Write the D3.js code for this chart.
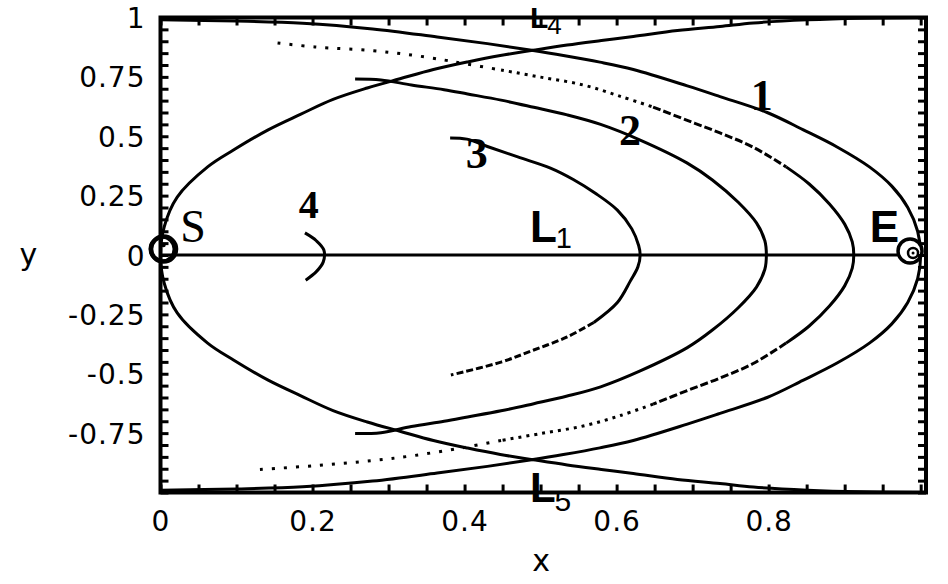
<!DOCTYPE html>
<html>
<head>
<meta charset="utf-8">
<script src="https://cdn.jsdelivr.net/npm/d3@7"></script>
<style>
  body { margin: 0; background: #fff; }
  svg { display: block; }
</style>
</head>
<body>
<svg id="chart"></svg>
<script>
var w = 948;
var h = 584;

// tick labels
let xLabels = ["0", "0.2", "0.4", "0.6", "0.8"];
let yLabels = ["1", "0.75", "0.5", "0.25", "0", "-0.25", "-0.5", "-0.75"];

// outer circle through E (right half of the "eye"), top-left -> E -> bottom-left
let arcS = [[0, 0.99], [0.1, 0.985], [0.187, 0.976], [0.279, 0.952], [0.364, 0.918], [0.43, 0.89],
    [0.486, 0.863], [0.53, 0.84], [0.578, 0.812], [0.622, 0.781], [0.693, 0.712], [0.736, 0.667],
    [0.798, 0.6], [0.845, 0.528], [0.89, 0.455], [0.933, 0.37], [0.962, 0.29], [0.983, 0.2],
    [0.996, 0.1], [1.0, 0],
    [0.996, -0.1], [0.983, -0.2], [0.962, -0.29], [0.933, -0.37], [0.89, -0.455], [0.845, -0.528],
    [0.798, -0.6], [0.736, -0.667], [0.693, -0.712], [0.622, -0.781], [0.578, -0.812], [0.53, -0.84],
    [0.486, -0.863], [0.43, -0.89], [0.364, -0.918], [0.279, -0.952], [0.187, -0.976], [0.1, -0.985],
    [0, -0.99]];

// outer circle through S (left half of the "eye"), top-right -> S -> bottom-right
let arcE = [[1.007, 1.0], [0.92, 0.997], [0.851, 0.99], [0.78, 0.977], [0.736, 0.962], [0.68, 0.945],
    [0.622, 0.92], [0.58, 0.903], [0.535, 0.884], [0.49, 0.862], [0.447, 0.84], [0.404, 0.813],
    [0.359, 0.781], [0.315, 0.742], [0.272, 0.703], [0.227, 0.655], [0.184, 0.592], [0.141, 0.526],
    [0.096, 0.442], [0.062, 0.371], [0.022, 0.244], [0.005, 0.12], [0, 0],
    [0.005, -0.12], [0.022, -0.244], [0.062, -0.371], [0.096, -0.442], [0.141, -0.526], [0.184, -0.592],
    [0.227, -0.655], [0.272, -0.703], [0.315, -0.742], [0.359, -0.781], [0.404, -0.813], [0.447, -0.84],
    [0.49, -0.862], [0.535, -0.884], [0.58, -0.903], [0.622, -0.92], [0.68, -0.945], [0.736, -0.962],
    [0.78, -0.977], [0.851, -0.99], [0.92, -0.997], [1.007, -1.0]];

// curve 1, split by how densely it was plotted
let c1Dots = [[0.154, 0.893], [0.203, 0.876], [0.277, 0.861], [0.33, 0.842], [0.373, 0.821], [0.40, 0.806], [0.448, 0.779]];
let c1Fine = [[0.448, 0.779], [0.5, 0.749], [0.556, 0.716], [0.605, 0.668], [0.648, 0.623]];
let c1Dash = [[0.648, 0.623], [0.692, 0.568], [0.736, 0.514], [0.779, 0.455], [0.823, 0.371]];
let c1Solid = [[0.823, 0.371], [0.853, 0.3], [0.88, 0.215], [0.9, 0.13], [0.91, 0.055], [0.912, 0],
    [0.91, -0.055], [0.9, -0.13], [0.88, -0.215], [0.853, -0.3], [0.823, -0.371]];
let c1DashLow = [[0.823, -0.371], [0.779, -0.458], [0.736, -0.518], [0.692, -0.572], [0.648, -0.628]];
let c1FineLow = [[0.648, -0.628], [0.605, -0.676], [0.556, -0.72], [0.5, -0.752], [0.448, -0.781]];
let c1DotsLow = [[0.448, -0.781], [0.40, -0.81], [0.33, -0.846], [0.277, -0.866], [0.203, -0.887], [0.121, -0.905]];

// curve 2
let c2 = [[0.256, 0.741], [0.29, 0.737], [0.33, 0.716], [0.373, 0.696], [0.404, 0.678], [0.448, 0.652],
    [0.491, 0.622], [0.535, 0.59], [0.579, 0.55], [0.631, 0.484], [0.693, 0.387], [0.726, 0.316],
    [0.76, 0.222], [0.784, 0.135], [0.795, 0.06], [0.797, 0],
    [0.795, -0.06], [0.784, -0.135], [0.76, -0.222], [0.726, -0.316], [0.693, -0.39], [0.631, -0.488],
    [0.579, -0.555], [0.535, -0.594], [0.491, -0.626], [0.448, -0.656], [0.404, -0.682], [0.373, -0.7],
    [0.33, -0.722], [0.29, -0.748], [0.256, -0.752]];

// curve 3
let c3 = [[0.381, 0.493], [0.403, 0.488], [0.43, 0.457], [0.47, 0.413], [0.513, 0.366], [0.543, 0.318],
    [0.572, 0.26], [0.601, 0.189], [0.62, 0.11], [0.629, 0.04], [0.631, 0],
    [0.628, -0.05], [0.618, -0.11], [0.601, -0.2], [0.57, -0.284]];
let c3Low = [[0.57, -0.284], [0.535, -0.345], [0.491, -0.4], [0.448, -0.451], [0.382, -0.505]];

// curve 4
let c4 = [[0.19, 0.093], [0.205, 0.06], [0.215, 0.02], [0.214, -0.03], [0.205, -0.07], [0.191, -0.106]];

// L1 line from S to E
let l1 = [[0, 0], [0.975, 0]];

// bodies
let bodies = [{ name: "S", x: 0.004, y: 0.025 }, { name: "E", x: 0.986, y: 0.017 }];

// annotations, data coordinates of each text anchor
let notes = [
    { text: "S", x: 0.026, y: 0.055, kind: "serif" },
    { text: "4", x: 0.182, y: 0.156, kind: "num" },
    { text: "1", x: 0.791, y: 0.611, kind: "num" },
    { text: "2", x: 0.6175, y: 0.463, kind: "num" },
    { text: "3", x: 0.416, y: 0.366, kind: "num" },
    { text: "E", x: 0.933, y: 0.055, kind: "sans" }
];
let points = [
    { text: "L", sub: "1", x: 0.486, y: 0.055, size: 44, subSize: 29, dy: 6 },
    { text: "L", sub: "4", x: 0.486, y: 0.956, size: 30, subSize: 26, dy: 6 },
    { text: "L", sub: "5", x: 0.486, y: -1.04, size: 42, subSize: 30, dy: 9 }
];

var svg = d3.select("#chart")
    .attr("width", w)
    .attr("height", h);
svg.append("rect").attr("width", w).attr("height", h).attr("fill", "#fff");

var x = d3.scaleLinear().domain([0, 1.007]).range([160.5, 926]);
var y = d3.scaleLinear().domain([-1, 1]).range([492.5, 17.5]);

var line = d3.line()
    .x(d => x(d[0]))
    .y(d => y(d[1]))
    .curve(d3.curveCatmullRom.alpha(0.5));

svg.append("clipPath").attr("id", "plotclip")
    .append("rect")
    .attr("x", x(0)).attr("y", y(1))
    .attr("width", x(1.007) - x(0)).attr("height", y(-1) - y(1));

var plot = svg.append("g").attr("clip-path", "url(#plotclip)");

function curve(data, dash) {
    plot.append("path")
        .datum(data)
        .attr("d", line)
        .attr("fill", "none")
        .attr("stroke", "#000")
        .attr("stroke-width", 3)
        .attr("stroke-dasharray", dash);
}

curve(arcS, null);
curve(arcE, null);
curve(c1Dots, "3,9");
curve(c1Fine, "3,5");
curve(c1Dash, "8,3");
curve(c1Solid, null);
curve(c1DashLow, "8,3");
curve(c1FineLow, "3,5");
curve(c1DotsLow, "3,9");
curve(c2, null);
curve(c3, null);
curve(c3Low, "7,3");
curve(c4, null);
curve(l1, null);

// S and E markers
var s = bodies[0], e = bodies[1];
svg.append("circle")
    .attr("cx", x(s.x)).attr("cy", y(s.y)).attr("r", 12.5)
    .attr("fill", "none").attr("stroke", "#000").attr("stroke-width", 4.5);
svg.append("circle")
    .attr("cx", x(s.x) - 1.5).attr("cy", y(s.y)).attr("r", 12)
    .attr("fill", "none").attr("stroke", "#000").attr("stroke-width", 3);
svg.append("circle")
    .attr("cx", x(s.x)).attr("cy", y(s.y) - 4).attr("r", 2.2).attr("fill", "#000");

svg.append("circle")
    .attr("cx", x(e.x)).attr("cy", y(e.y)).attr("r", 12)
    .attr("fill", "#fff").attr("stroke", "#000").attr("stroke-width", 3.5);
svg.append("circle")
    .attr("cx", x(e.x) + 3).attr("cy", y(e.y) + 2).attr("r", 5)
    .attr("fill", "none").attr("stroke", "#000").attr("stroke-width", 2.5);
svg.append("circle")
    .attr("cx", x(e.x) + 3).attr("cy", y(e.y) + 2).attr("r", 1.5).attr("fill", "#000");

// axes
var xTicks = d3.range(0, 1.0001, 0.05);
var yTicks = d3.range(-1, 1.0001, 0.05);
function lab(list, d) {
    let m = list.find(t => Math.abs(+t - d) < 1e-6);
    return m === undefined ? "" : m;
}
function tidy(g) {
    g.select(".domain").remove();
    g.selectAll(".tick line").attr("stroke", "#000").attr("stroke-width", 3);
    g.selectAll(".tick text")
        .attr("fill", "#000")
        .style("font-family", "'DejaVu Sans', sans-serif")
        .style("font-size", "28px")
        .style("letter-spacing", "1px");
}

svg.append("g")
    .attr("transform", `translate(0,${y(-1)})`)
    .call(d3.axisBottom(x).tickValues(xTicks).tickSize(-8).tickFormat(d => lab(xLabels, d)))
    .call(tidy)
    .call(g => g.selectAll(".tick text").attr("y", 38.5).attr("dy", null));

svg.append("g")
    .attr("transform", `translate(${x(0)},0)`)
    .call(d3.axisLeft(y).tickValues(yTicks).tickSize(-8).tickFormat(d => lab(yLabels, d)))
    .call(tidy)
    .call(g => g.selectAll(".tick text").attr("x", -15).attr("dy", "0.36em"));

svg.append("g")
    .attr("transform", `translate(0,${y(1)})`)
    .call(d3.axisTop(x).tickValues(xTicks).tickSize(-8).tickFormat(""))
    .call(tidy);

svg.append("g")
    .attr("transform", `translate(${x(1.007)},0)`)
    .call(d3.axisRight(y).tickValues(yTicks).tickSize(-8).tickFormat(""))
    .call(tidy);

// frame
svg.append("rect")
    .attr("x", x(0)).attr("y", y(1))
    .attr("width", x(1.007) - x(0)).attr("height", y(-1) - y(1))
    .attr("fill", "none").attr("stroke", "#000").attr("stroke-width", 4);

// axis titles
svg.append("text")
    .attr("x", (x(0) + x(1.007)) / 2 - 2).attr("y", 571)
    .attr("text-anchor", "middle")
    .style("font-family", "'DejaVu Sans', sans-serif").style("font-size", "30px")
    .text("x");
svg.append("text")
    .attr("x", 28.5).attr("y", 265)
    .attr("text-anchor", "middle")
    .style("font-family", "'DejaVu Sans', sans-serif").style("font-size", "30px")
    .text("y");

// annotations
var fonts = {
    serif: { family: "'Liberation Serif', serif", size: 46, weight: "normal", anchor: "start" },
    num: { family: "'Liberation Serif', serif", size: 44, weight: "bold", anchor: "middle" },
    sans: { family: "'Liberation Sans', sans-serif", size: 44, weight: "bold", anchor: "start" }
};
notes.forEach(n => {
    let f = fonts[n.kind];
    svg.append("text")
        .attr("x", x(n.x)).attr("y", y(n.y))
        .attr("text-anchor", n.text == "4" ? "start" : f.anchor)
        .style("font-family", f.family)
        .style("font-size", (n.text == "4" ? 40 : f.size) + "px")
        .style("font-weight", f.weight)
        .text(n.text);
});
points.forEach(p => {
    let t = svg.append("text")
        .attr("x", x(p.x)).attr("y", y(p.y))
        .style("font-family", "'Liberation Sans', sans-serif");
    t.append("tspan").style("font-size", p.size + "px").style("font-weight", "bold").text(p.text);
    t.append("tspan").attr("dx", -1).attr("dy", p.dy).style("font-size", p.subSize + "px").text(p.sub);
});
</script>
</body>
</html>
